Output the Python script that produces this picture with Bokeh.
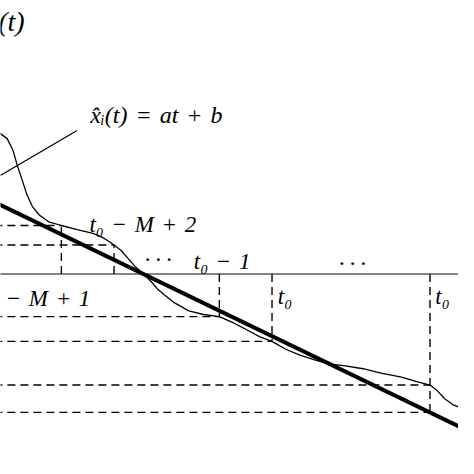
from bokeh.plotting import figure
from bokeh.models import Label, Range1d
from bokeh.embed import file_html
from bokeh.resources import INLINE

# ---- data (t in sample steps, t0 = 0; x in same units) ----
curve_t = [-5.3, -5.15, -5.03, -4.92, -4.84, -4.75, -4.66, -4.55, -4.42, -4.24,
           -4.0, -3.7, -3.4, -3.23, -3.1, -3.0, -2.86, -2.73, -2.59, -2.44,
           -2.31, -2.18, -2.04, -1.85, -1.58, -1.3, -1.0, -0.75, -0.48, -0.24,
           0.0, 0.26, 0.53, 0.81, 1.08, 1.36, 1.73, 2.09, 2.46, 2.73,
           3.0, 3.14, 3.28, 3.43, 3.55]
curve_x = [2.70, 2.66, 2.57, 2.35, 2.07, 1.80, 1.52, 1.28, 1.12, 0.99,
           0.92, 0.84, 0.77, 0.70, 0.62, 0.55, 0.44, 0.29, 0.13, 0.0,
           -0.13, -0.28, -0.40, -0.55, -0.70, -0.77, -0.81, -0.92, -1.06, -1.19,
           -1.28, -1.43, -1.54, -1.63, -1.71, -1.74, -1.80, -1.89, -1.96, -2.04,
           -2.11, -2.22, -2.37, -2.48, -2.53]

sample_t = [-4, -3, -1, 0, 3]
sample_x = [0.92, 0.55, -0.81, -1.28, -2.11]

fit_a = -0.483
fit_b = -1.18

leader_t = [-5.16, -3.71]
leader_x = [1.87, 2.72]

PX = 54.5  # reference pixels per unit
T_LEFT = -7.0

p = figure(width=458, height=458, output_backend="svg", toolbar_location=None,
           min_border=0, min_border_left=0, min_border_right=0,
           min_border_top=0, min_border_bottom=0)
p.x_range = Range1d((0 - 281) / PX, (474 - 281) / PX)
p.y_range = Range1d((283 - 474) / PX, (283 - 0) / PX)
p.axis.visible = False
p.grid.visible = False
p.outline_line_color = None
p.background_fill_color = "white"
p.border_fill_color = "white"

# time axis
p.line([T_LEFT, 6], [0, 0], line_color="#5a5a5a", line_width=1.4)

# dashed guides
fit_at = [fit_a * t + fit_b for t in sample_t]
vx0, vy0, vx1, vy1 = [], [], [], []
hx0, hy0, hx1, hy1 = [], [], [], []
for t, xv, fv in zip(sample_t, sample_x, fit_at):
    end = min(xv, fv) if t > 0 else xv
    vx0.append(t); vy0.append(0); vx1.append(t); vy1.append(end)
    hx0.append(T_LEFT); hy0.append(xv); hx1.append(t); hy1.append(xv)
    if t > 0:
        hx0.append(T_LEFT); hy0.append(fv); hx1.append(t); hy1.append(fv)
p.segment(vx0, vy0, vx1, vy1, line_color="black", line_width=1.4, line_dash="8 5")
p.segment(hx0, hy0, hx1, hy1, line_color="black", line_width=1.4, line_dash="8 5")

# signal and fit
p.line(curve_t, curve_x, line_color="black", line_width=1.3)
p.line([T_LEFT, 6], [fit_a * T_LEFT + fit_b, fit_a * 6 + fit_b],
       line_color="black", line_width=4)
p.line(leader_t, leader_x, line_color="black", line_width=1.3)

FONT = "Liberation Serif"
S = "\u2004"  # three-per-em space, mimics TeX math spacing
labels = [
    ("x\u1d62(t)", -4.697, 4.79, "right", "28px"),
    ("x\u0302\u1d62(t)" + S + "=" + S + "at" + S + "+" + S + "b", -3.45, 3.01, "left", "24px"),
    ("t\u2080" + S + "\u2212" + S + "M" + S + "+" + S + "1", -3.45, -0.47, "right", "23px"),
    ("t\u2080" + S + "\u2212" + S + "M" + S + "+" + S + "2", -3.468, 0.93, "left", "23px"),
    ("\u00b7\u2009\u00b7\u2009\u00b7", -2.165, 0.29, "center", "24px"),
    ("t\u2080" + S + "\u2212" + S + "1", -1.486, 0.24, "left", "23px"),
    ("\u00b7\u2009\u00b7\u2009\u00b7", 1.523, 0.20, "center", "24px"),
    ("t\u2080", 0.11, -0.42, "left", "23px"),
    ("t\u2080", 3.10, -0.42, "left", "23px"),
]
for txt, lx, ly, al, fs in labels:
    p.add_layout(Label(x=lx, y=ly, text=txt, text_align=al, text_baseline="alphabetic",
                       text_font=FONT, text_font_style="italic", text_font_size=fs,
                       text_color="black"))

open("out.html", "w").write(file_html(p, INLINE))
